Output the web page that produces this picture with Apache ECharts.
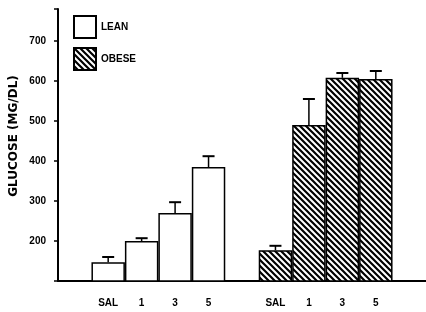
<!DOCTYPE html>
<html>
<head>
<meta charset="utf-8">
<script src="https://cdn.jsdelivr.net/npm/echarts@6/dist/echarts.min.js"></script>
<style>
html,body{margin:0;padding:0;background:#fff;}
#chart{width:426px;height:312px;}
</style>
</head>
<body>
<div id="chart"></div>
<script>
// ---- data ----
var groups = ['LEAN', 'OBESE'];
var doses = ['SAL', '1', '3', '5'];
var leanMeans = [147, 200, 270, 385];
var leanErr = [13, 7, 27, 27];
var obeseMeans = [177, 490, 608, 605];
var obeseErr = [11, 65, 12, 20];
var yTicks = [200, 300, 400, 500, 600, 700];
var yTitle = 'GLUCOSE (MG/DL)';

// category slots: blank, lean doses, blank, obese doses, blank
var categories = ['b0'];
doses.forEach(function (d) { categories.push('L|' + d); });
categories.push('b1');
doses.forEach(function (d) { categories.push('O|' + d); });
categories.push('b2');

var leanData = categories.map(function (c) {
  var i = doses.indexOf(c.split('|')[1]);
  return c.indexOf('L|') === 0 ? leanMeans[i] : null;
});
var obeseData = categories.map(function (c) {
  var i = doses.indexOf(c.split('|')[1]);
  return c.indexOf('O|') === 0 ? obeseMeans[i] : null;
});
var errData = [];
categories.forEach(function (c, k) {
  var i = doses.indexOf(c.split('|')[1]);
  if (c.indexOf('L|') === 0) errData.push([k, leanMeans[i], leanMeans[i] + leanErr[i]]);
  if (c.indexOf('O|') === 0) errData.push([k, obeseMeans[i], obeseMeans[i] + obeseErr[i]]);
});

// hatch pattern
var pc = document.createElement('canvas');
pc.width = 6; pc.height = 6;
var g = pc.getContext('2d');
g.fillStyle = '#fff'; g.fillRect(0, 0, 6, 6);
g.strokeStyle = '#000'; g.lineWidth = 2.2;
g.beginPath();
g.moveTo(-1, -1); g.lineTo(7, 7);
g.moveTo(-7, -1); g.lineTo(1, 7);
g.moveTo(5, -1); g.lineTo(13, 7);
g.stroke();
var hatch = { image: pc, repeat: 'repeat' };

var font = 'Liberation Sans';
var chart = echarts.init(document.getElementById('chart'), null, { renderer: 'canvas' });
chart.setOption({
  animation: false,
  backgroundColor: '#fff',
  grid: { left: 58, top: 9, width: 382.25, height: 272 },
  legend: {
    orient: 'vertical', left: 73, top: 15, padding: 0,
    itemWidth: 22, itemHeight: 22, itemGap: 8,
    icon: 'rect',
    textStyle: { fontFamily: font, fontWeight: 'bold', fontSize: 10, color: '#000' },
    data: groups
  },
  xAxis: {
    type: 'category',
    data: categories,
    axisLine: { lineStyle: { color: '#000', width: 2 } },
    axisTick: { show: false },
    axisLabel: {
      interval: 0, margin: 17, color: '#000',
      fontFamily: font, fontWeight: 'bold', fontSize: 10,
      formatter: function (v) { return v.indexOf('|') >= 0 ? v.split('|')[1] : ''; }
    },
    splitLine: { show: false }
  },
  yAxis: {
    type: 'value', min: 100, max: 780, interval: 100,
    axisLine: { show: true, lineStyle: { color: '#000', width: 2 } },
    axisTick: { show: true, length: 4, lineStyle: { color: '#000', width: 1.5 } },
    axisLabel: {
      margin: 12, color: '#000', fontFamily: font, fontWeight: 'bold', fontSize: 10,
      formatter: function (v) { return yTicks.indexOf(v) >= 0 ? String(v) : ''; }
    },
    splitLine: { show: false }
  },
  graphic: [{
    type: 'text', x: 14, y: 136, rotation: Math.PI / 2,
    style: {
      text: yTitle, fill: '#000', font: 'bold 12px "DejaVu Sans"',
      textAlign: 'center', textVerticalAlign: 'middle'
    }
  }],
  series: [
    {
      name: groups[0], type: 'bar', data: leanData,
      barCategoryGap: '0%', barGap: '-100%',
      itemStyle: { color: '#fff', borderColor: '#000', borderWidth: 1.5 }
    },
    {
      name: groups[1], type: 'bar', data: obeseData,
      barCategoryGap: '0%', barGap: '-100%',
      itemStyle: { color: hatch, borderColor: '#000', borderWidth: 1.5 }
    },
    {
      type: 'custom', data: errData, z: 10,
      renderItem: function (params, api) {
        var x = api.value(0);
        var p0 = api.coord([x, api.value(1)]);
        var p1 = api.coord([x, api.value(2)]);
        var hw = 6;
        var st = { stroke: '#000', lineWidth: 1.5 };
        return {
          type: 'group', children: [
            { type: 'line', shape: { x1: p0[0], y1: p0[1], x2: p1[0], y2: p1[1] }, style: st },
            { type: 'line', shape: { x1: p1[0] - hw, y1: p1[1], x2: p1[0] + hw, y2: p1[1] }, style: { stroke: '#000', lineWidth: 2 } }
          ]
        };
      }
    }
  ]
});
</script>
</body>
</html>
